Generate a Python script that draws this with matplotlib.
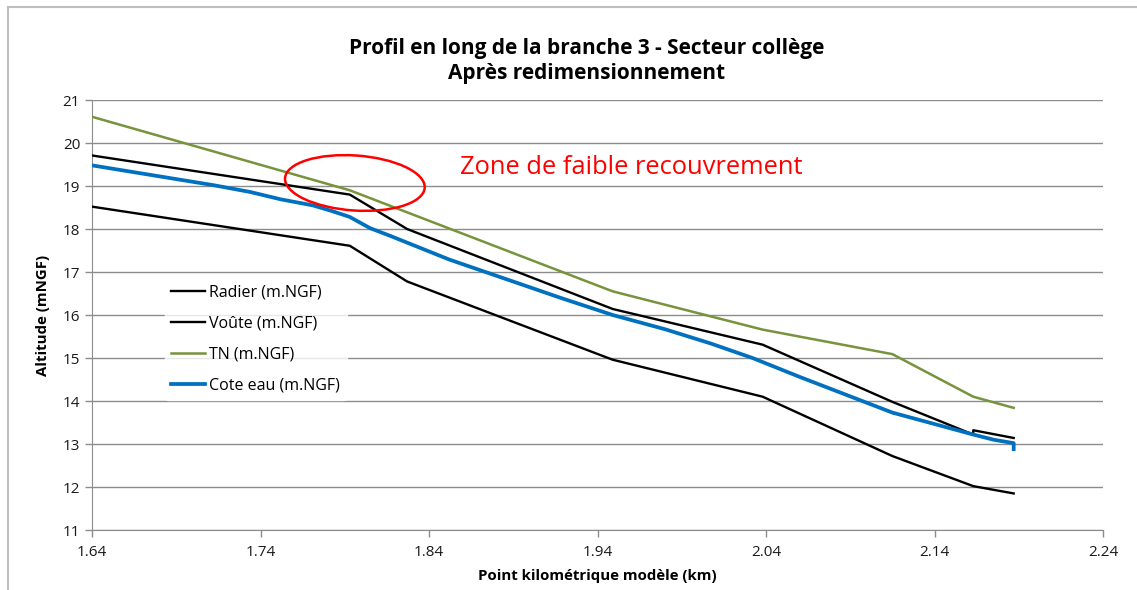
import matplotlib

matplotlib.use("Agg")
import matplotlib.pyplot as plt
from matplotlib.lines import Line2D
from matplotlib.patches import Ellipse
from matplotlib.transforms import IdentityTransform

# ---- data --------------------------------------------------------------- #
radier_km = [1.640, 1.793, 1.827, 1.949, 2.038, 2.115, 2.163, 2.187]
radier_z = [18.52, 17.61, 16.78, 14.96, 14.10, 12.72, 12.02, 11.85]

voute_km = [1.640, 1.793, 1.827, 1.949, 2.038, 2.115, 2.163, 2.163, 2.187]
voute_z = [19.71, 18.80, 18.00, 16.14, 15.31, 13.98, 13.22, 13.32, 13.14]

tn_km = [1.640, 1.793, 1.949, 2.038, 2.115, 2.163, 2.187]
tn_z = [20.61, 18.90, 16.55, 15.66, 15.09, 14.10, 13.84]

eau_km = [1.640, 1.712, 1.734, 1.752, 1.771, 1.783, 1.793, 1.805, 1.817,
          1.852, 1.918, 1.949, 1.980, 2.007, 2.032, 2.060, 2.115, 2.163,
          2.175, 2.187, 2.187]
eau_z = [19.48, 19.02, 18.86, 18.69, 18.55, 18.41, 18.28, 18.02, 17.84,
         17.29, 16.40, 16.00, 15.67, 15.34, 15.00, 14.56, 13.73, 13.22,
         13.10, 13.02, 12.88]

labels = ["Radier (m.NGF)", "Voûte (m.NGF)", "TN (m.NGF)", "Cote eau (m.NGF)"]
x_ticks = [1.64, 1.74, 1.84, 1.94, 2.04, 2.14, 2.24]
y_ticks = list(range(11, 22))

title = "Profil en long de la branche 3 - Secteur collège\nAprès redimensionnement"
note = "Zone de faible recouvrement"

GREEN = "#77933C"
BLUE = "#0070C0"
GRID = "#8C8C8C"

plt.rcParams["font.family"] = ["Open Sans", "DejaVu Sans"]

fig = plt.figure(figsize=(11.37, 5.90), dpi=100)
ax = fig.add_axes([92 / 1137, 1 - 530 / 590, (1103 - 92) / 1137, (530 - 100) / 590])

# chart frame (Excel-style outer border)
fig.add_artist(Line2D([8 / 1137, 8 / 1137], [0, 1 - 7 / 590],
                      transform=fig.transFigure, color="#BEBEBE", lw=1.5))
fig.add_artist(Line2D([8 / 1137, 1], [1 - 7 / 590, 1 - 7 / 590],
                      transform=fig.transFigure, color="#BEBEBE", lw=1.5))

ax.plot(radier_km, radier_z, color="black", lw=1.7, label=labels[0], zorder=3)
ax.plot(voute_km, voute_z, color="black", lw=1.7, label=labels[1], zorder=3)
ax.plot(tn_km, tn_z, color=GREEN, lw=1.8, label=labels[2], zorder=3)
ax.plot(eau_km, eau_z, color=BLUE, lw=2.7, label=labels[3], zorder=3)

ax.set_xlim(1.64, 2.24)
ax.set_ylim(11, 21)
ax.set_xticks(x_ticks)
ax.set_xticklabels([f"{t:.2f}" for t in x_ticks])
ax.set_yticks(y_ticks)
ax.grid(axis="y", color=GRID, lw=1.0, zorder=0)
ax.set_axisbelow(True)
for side in ("top", "right"):
    ax.spines[side].set_visible(False)
for side in ("left", "bottom"):
    ax.spines[side].set_color(GRID)
ax.tick_params(axis="both", colors=GRID, labelcolor="#1A1A1A", labelsize=11,
               length=5, width=1)
ax.tick_params(axis="x", pad=6)

ax.set_xlabel("Point kilométrique modèle (km)", fontsize=10.8, fontweight="bold",
              labelpad=6)
ax.set_ylabel("Altitude (mNGF)", fontsize=10.8, fontweight="bold", labelpad=9)

fig.text(587 / 1137, 1 - 61 / 590, title, ha="center", va="center",
         fontsize=15, fontweight="bold", linespacing=1.3)

leg = ax.legend(loc="upper left", bbox_to_anchor=(0.064, 0.605), frameon=True,
                fontsize=11.5, handlelength=2.1, handletextpad=0.3,
                labelspacing=0.95, borderpad=0.4)
leg.get_frame().set_facecolor("white")
leg.get_frame().set_edgecolor("white")

# red ellipse drawn in pixel space so its slight tilt is not skewed by the
# axes aspect
cx, cy = ax.transData.transform((1.796, 19.07))
ax.add_artist(Ellipse((cx, cy), 140, 55, angle=-4, fill=False, ec="red",
                      lw=1.8, zorder=4, transform=IdentityTransform()))
ax.text(1.8584, 19.44, note, color="red", fontsize=18.4, va="center", ha="left")

fig.savefig("out.png", dpi=100)
